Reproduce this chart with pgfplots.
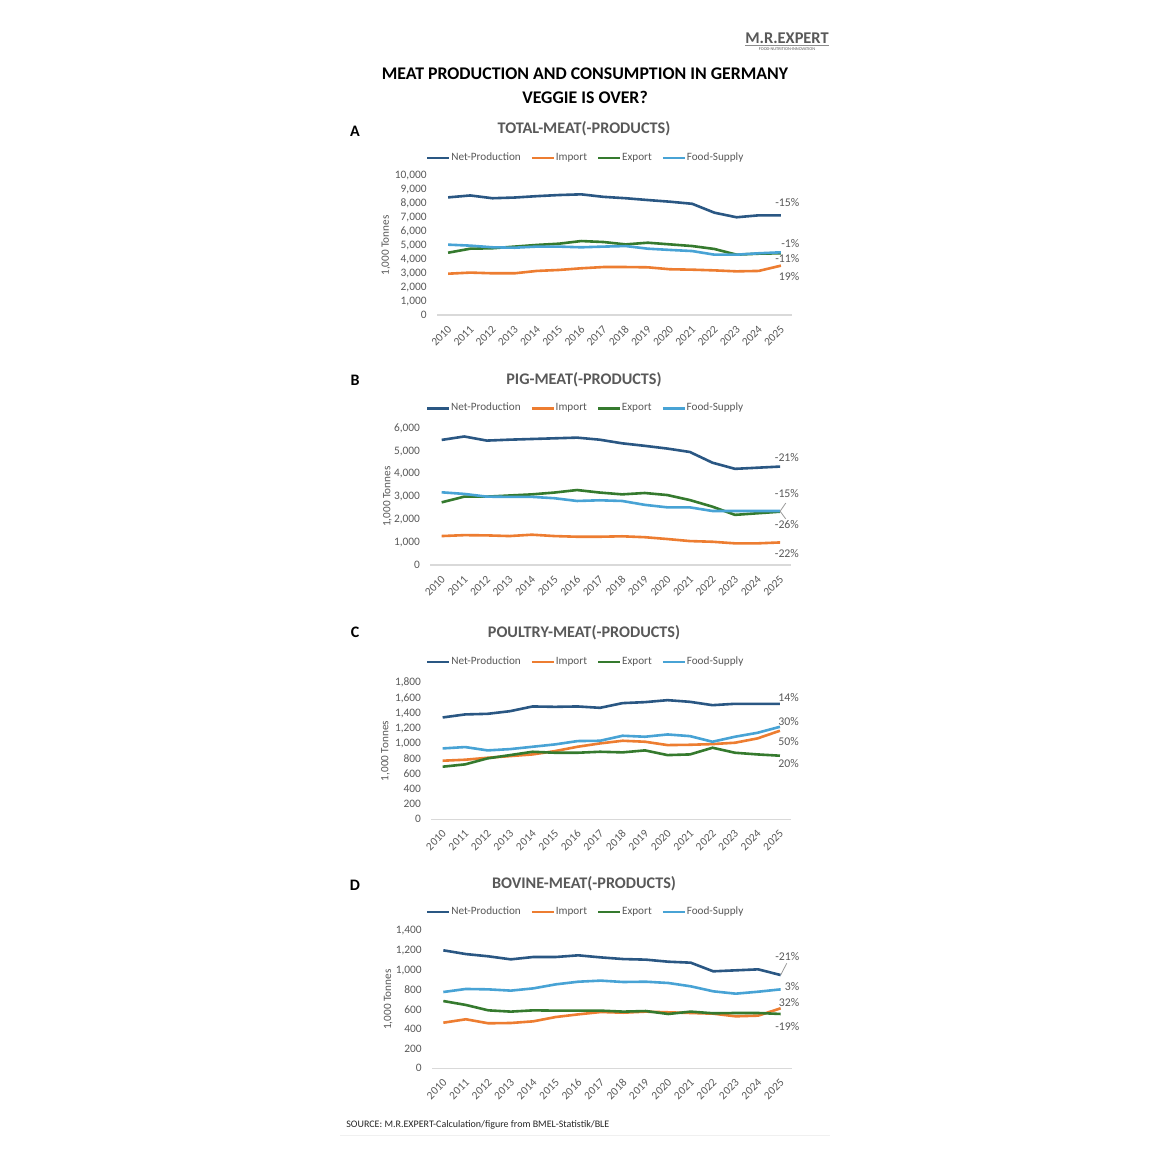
\documentclass[border=0pt]{standalone}
\usepackage{pgfplots}
\pgfplotsset{compat=1.18}
\usepackage{fontspec}
\setmainfont{Carlito}
\definecolor{cnet}{HTML}{2A5783}
\definecolor{cimp}{HTML}{ED7D31}
\definecolor{cexp}{HTML}{357A2E}
\definecolor{cfood}{HTML}{48A3D5}
\definecolor{cgray}{HTML}{595959}
\definecolor{caxis}{HTML}{D9D9D9}

\tikzset{pct/.style={anchor=east, font=\fontsize{5.9}{6.5}\selectfont, text=cgray, inner sep=0pt}}
\pgfplotsset{
  meat/.style={
    scale only axis, anchor=south west, clip=false,
    xmin=2009.5, xmax=2025.5, ymin=0,
    axis lines*=left,
    y axis line style={draw=none},
    x axis line style={draw=caxis, line width=0.6pt, -},
    major tick length=0pt,
    xtick={2010,...,2025},
    /pgf/number format/assume math mode=true,
    /pgf/number format/1000 sep={,},
    xticklabel style={/pgf/number format/1000 sep=, anchor=east, inner sep=0pt, xshift=0.9pt, yshift=-6.25pt, rotate=45, font=\fontsize{5.7}{6.5}\selectfont, text=cgray},
    yticklabel style={anchor=east, inner sep=0pt, xshift=-5pt, font=\fontsize{5.7}{6.5}\selectfont, text=cgray},
    scaled y ticks=false,
    ylabel={1,000 Tonnes},
    every axis y label/.style={at={(axis description cs:0,0.5)}, rotate=90, anchor=center, font=\fontsize{5.6}{6.5}\selectfont, text=cgray},
    every axis plot/.append style={line width=1.3pt, line join=round, no markers},
    legend columns=4,
    legend image code/.code={\draw[##1, line width=1.3pt] (0pt,0pt) -- (11pt,0pt);},
    legend style={draw=none, fill=none, font=\fontsize{5.6}{6.5}\selectfont, text=cgray, inner sep=0pt,
      /tikz/every even column/.append style={column sep=4.6pt}, nodes={inner xsep=0.3pt, inner ysep=0pt}},
  },
}

\begin{document}
\begin{tikzpicture}
\fill[white] (0,0) rectangle (585pt,581pt);
\begin{scope}[x=0.5pt,y=-0.5pt,shift={(0pt,581pt)}]
  \node[font=\bfseries\fontsize{8.9}{10}\selectfont] at (585,74) {MEAT PRODUCTION AND CONSUMPTION IN GERMANY};
  \node[font=\bfseries\fontsize{8.9}{10}\selectfont] at (585,97) {VEGGIE IS OVER?};
  \node[font=\bfseries\fontsize{8.2}{9}\selectfont, text=cgray] at (787,38) {M.R.EXPERT};
  \draw[cgray!70, line width=0.5pt] (745,45.5) -- (829,45.5);
  \node[font=\fontsize{2.2}{2.5}\selectfont, text=cgray] at (787,49) {FOOD·NUTRITION·INNOVATION};
  \foreach \l/\yy in {A/131,B/380,C/632,D/885} {\node[font=\bfseries\fontsize{8}{9}\selectfont] at (355,\yy) {\l};}
  \node[font=\bfseries\fontsize{8.1}{9}\selectfont, text=cgray] at (584,129) {TOTAL-MEAT(-PRODUCTS)};
  \node[font=\bfseries\fontsize{8.1}{9}\selectfont, text=cgray] at (584,380) {PIG-MEAT(-PRODUCTS)};
  \node[font=\bfseries\fontsize{8.1}{9}\selectfont, text=cgray] at (584,633) {POULTRY-MEAT(-PRODUCTS)};
  \node[font=\bfseries\fontsize{8.1}{9}\selectfont, text=cgray] at (584,884) {BOVINE-MEAT(-PRODUCTS)};
  \node[anchor=west, inner sep=0pt, font=\fontsize{5}{6}\selectfont, text=black!85] at (346,1125) {SOURCE: M.R.EXPERT-Calculation/figure from BMEL-Statistik/BLE};
  \draw[black!6, line width=0.5pt] (340,1135) -- (830,1135);
\end{scope}

% ---------- A ----------
\begin{axis}[meat, at={(218.5pt,423.5pt)}, width=177.5pt, height=69.5pt,
  ymax=10000, ytick={0,1000,...,10000},
  every axis y label/.append style={yshift=25.5pt},
  legend style={at={(0.417,1)}, anchor=center, yshift=9pt}]
\addplot[cnet] coordinates {(2010,8460)(2011,8600)(2012,8400)(2013,8450)(2014,8550)(2015,8630)(2016,8680)(2017,8500)(2018,8400)(2019,8270)(2020,8150)(2021,8000)(2022,7360)(2023,7030)(2024,7170)(2025,7170)};
\addplot[cimp] coordinates {(2010,2970)(2011,3050)(2012,3000)(2013,3000)(2014,3170)(2015,3240)(2016,3360)(2017,3450)(2018,3450)(2019,3430)(2020,3290)(2021,3260)(2022,3210)(2023,3140)(2024,3170)(2025,3550)};
\addplot[cexp] coordinates {(2010,4480)(2011,4770)(2012,4800)(2013,4920)(2014,5040)(2015,5130)(2016,5320)(2017,5250)(2018,5080)(2019,5200)(2020,5080)(2021,4960)(2022,4750)(2023,4340)(2024,4410)(2025,4440)};
\addplot[cfood] coordinates {(2010,5060)(2011,4990)(2012,4870)(2013,4840)(2014,4920)(2015,4920)(2016,4870)(2017,4920)(2018,4960)(2019,4770)(2020,4680)(2021,4600)(2022,4340)(2023,4340)(2024,4440)(2025,4510)};
\legend{Net-Production,Import,Export,Food-Supply}
\node[pct] at (axis cs:2025.85,8058) {-15\%};
\node[pct] at (axis cs:2025.85,5108) {-1\%};
\node[pct] at (axis cs:2025.85,4029) {-11\%};
\node[pct] at (axis cs:2025.85,2734) {19\%};
\end{axis}

% ---------- B ----------
\begin{axis}[meat, at={(215.2pt,298.5pt)}, width=180.5pt, height=68.35pt,
  ymax=6000, ytick={0,1000,...,6000},
  every axis y label/.append style={yshift=21.5pt},
  legend style={at={(0.428,1)}, anchor=center, yshift=10pt}]
\addplot[cnet] coordinates {(2010,5490)(2011,5640)(2012,5460)(2013,5500)(2014,5530)(2015,5560)(2016,5590)(2017,5500)(2018,5340)(2019,5230)(2020,5110)(2021,4960)(2022,4490)(2023,4220)(2024,4270)(2025,4320)};
\addplot[cimp] coordinates {(2010,1270)(2011,1310)(2012,1300)(2013,1270)(2014,1330)(2015,1270)(2016,1240)(2017,1240)(2018,1260)(2019,1220)(2020,1140)(2021,1050)(2022,1020)(2023,950)(2024,950)(2025,990)};
\addplot[cexp] coordinates {(2010,2750)(2011,3000)(2012,3000)(2013,3050)(2014,3100)(2015,3180)(2016,3290)(2017,3180)(2018,3100)(2019,3160)(2020,3070)(2021,2850)(2022,2560)(2023,2200)(2024,2270)(2025,2340)};
\addplot[cfood] coordinates {(2010,3190)(2011,3120)(2012,3000)(2013,2990)(2014,2990)(2015,2930)(2016,2810)(2017,2840)(2018,2810)(2019,2640)(2020,2530)(2021,2530)(2022,2370)(2023,2370)(2024,2370)(2025,2370)};
\legend{Net-Production,Import,Export,Food-Supply}
\draw[cgray!60, line width=0.4pt] (axis cs:2025.25,2720) -- (axis cs:2025,2360) -- (axis cs:2025.25,2020);
\node[pct] at (axis cs:2025.85,4697) {-21\%};
\node[pct] at (axis cs:2025.85,3116) {-15\%};
\node[pct] at (axis cs:2025.85,1756) {-26\%};
\node[pct] at (axis cs:2025.85,483) {-22\%};
\end{axis}

% ---------- C ----------
\begin{axis}[meat, at={(215.7pt,171.35pt)}, width=179.9pt, height=68.3pt,
  ymax=1800, ytick={0,200,...,1800},
  every axis y label/.append style={yshift=23pt},
  legend style={at={(0.427,1)}, anchor=center, yshift=10.3pt}]
\addplot[cnet] coordinates {(2010,1342)(2011,1382)(2012,1390)(2013,1425)(2014,1487)(2015,1482)(2016,1487)(2017,1469)(2018,1531)(2019,1544)(2020,1570)(2021,1548)(2022,1504)(2023,1522)(2024,1522)(2025,1522)};
\addplot[cimp] coordinates {(2010,772)(2011,785)(2012,811)(2013,833)(2014,855)(2015,899)(2016,956)(2017,1000)(2018,1035)(2019,1022)(2020,978)(2021,982)(2022,991)(2023,1009)(2024,1066)(2025,1167)};
\addplot[cexp] coordinates {(2010,693)(2011,724)(2012,803)(2013,846)(2014,890)(2015,877)(2016,877)(2017,890)(2018,882)(2019,908)(2020,846)(2021,855)(2022,943)(2023,877)(2024,855)(2025,838)};
\addplot[cfood] coordinates {(2010,934)(2011,952)(2012,908)(2013,925)(2014,956)(2015,987)(2016,1031)(2017,1035)(2018,1101)(2019,1088)(2020,1118)(2021,1096)(2022,1022)(2023,1088)(2024,1140)(2025,1219)};
\legend{Net-Production,Import,Export,Food-Supply}
\node[pct] at (axis cs:2025.85,1602) {14\%};
\node[pct] at (axis cs:2025.85,1295) {30\%};
\node[pct] at (axis cs:2025.85,1023) {50\%};
\node[pct] at (axis cs:2025.85,733) {20\%};
\end{axis}

% ---------- D ----------
\begin{axis}[meat, at={(216.05pt,46.85pt)}, width=179.9pt, height=68.65pt,
  ymax=1400, ytick={0,200,...,1400},
  every axis y label/.append style={yshift=22pt},
  legend style={at={(0.425,1)}, anchor=center, yshift=9.5pt}]
\addplot[cnet] coordinates {(2010,1203)(2011,1165)(2012,1142)(2013,1111)(2014,1135)(2015,1135)(2016,1152)(2017,1131)(2018,1114)(2019,1108)(2020,1087)(2021,1077)(2022,989)(2023,999)(2024,1009)(2025,951)};
\addplot[cimp] coordinates {(2010,465)(2011,500)(2012,459)(2013,462)(2014,479)(2015,523)(2016,550)(2017,574)(2018,567)(2019,578)(2020,571)(2021,564)(2022,557)(2023,530)(2024,537)(2025,612)};
\addplot[cexp] coordinates {(2010,686)(2011,646)(2012,591)(2013,578)(2014,591)(2015,588)(2016,588)(2017,588)(2018,578)(2019,584)(2020,554)(2021,578)(2022,561)(2023,564)(2024,564)(2025,554)};
\addplot[cfood] coordinates {(2010,778)(2011,809)(2012,805)(2013,792)(2014,815)(2015,856)(2016,883)(2017,894)(2018,880)(2019,883)(2020,870)(2021,836)(2022,785)(2023,761)(2024,781)(2025,805)};
\legend{Net-Production,Import,Export,Food-Supply}
\draw[cgray!60, line width=0.4pt] (axis cs:2025,951) -- (axis cs:2025.27,1071);
\node[pct] at (axis cs:2025.85,1138) {-21\%};
\node[pct] at (axis cs:2025.85,839) {3\%};
\node[pct] at (axis cs:2025.85,669) {32\%};
\node[pct] at (axis cs:2025.85,421) {-19\%};
\end{axis}
\end{tikzpicture}
\end{document}
